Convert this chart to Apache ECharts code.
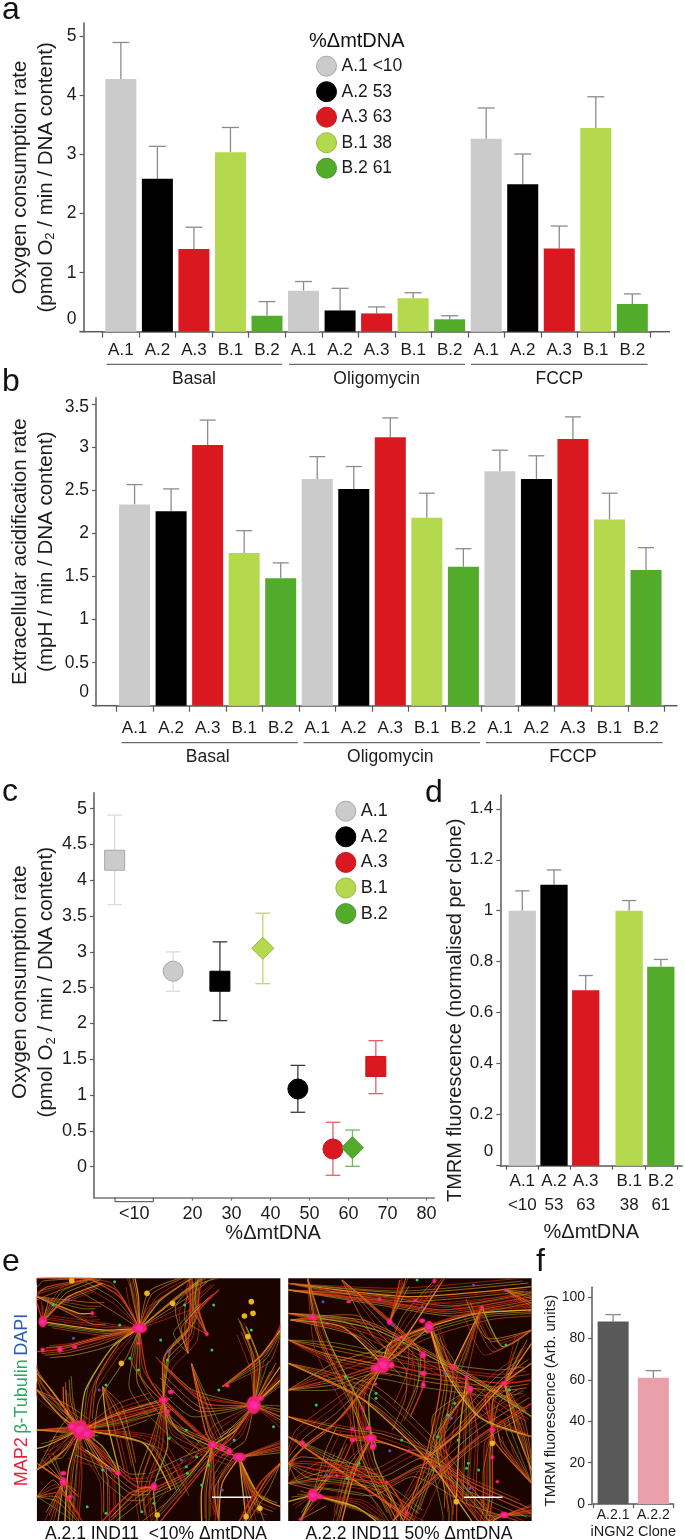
<!DOCTYPE html>
<html><head><meta charset="utf-8">
<style>html,body{margin:0;padding:0;background:#fff}#c{width:685px;height:1540px}</style>
<script src="https://cdn.jsdelivr.net/npm/echarts@6/dist/echarts.min.js"></script>
</head><body><div id="c"></div>
<script>
// ---------- data ----------
const clones = ['A.1','A.2','A.3','B.1','B.2'];
const deltaLabels = ['<10','53','63','38','61'];
const conditions = ['Basal','Oligomycin','FCCP'];
// panel a: [Basal, Oligomycin, FCCP]
const ocrA1 = [4.28,0.695,3.27], ocrA1Err = [4.90,0.85,3.79];
const ocrA2 = [2.59,0.36,2.50],  ocrA2Err = [3.14,0.735,3.01];
const ocrA3 = [1.40,0.31,1.41],  ocrA3Err = [1.77,0.42,1.79];
const ocrB1 = [3.04,0.565,3.45], ocrB1Err = [3.46,0.66,3.98];
const ocrB2 = [0.27,0.21,0.47],  ocrB2Err = [0.51,0.27,0.64];
// panel b
const ecarA1 = [2.34,2.635,2.725], ecarA1Err = [2.57,2.895,2.97];
const ecarA2 = [2.26,2.52,2.635],  ecarA2Err = [2.52,2.78,2.905];
const ecarA3 = [3.03,3.12,3.10],   ecarA3Err = [3.32,3.345,3.357];
const ecarB1 = [1.775,2.186,2.163],ecarB1Err = [2.035,2.47,2.47];
const ecarB2 = [1.48,1.616,1.578], ecarB2Err = [1.66,1.825,1.837];
// panel c: x, y, low, high
const scA1 = [[0,4.28,3.66,4.91],[15,2.73,2.45,3.00]];
const scA2 = [[27,2.59,2.04,3.14],[47,1.085,0.76,1.415]];
const scA3 = [[67,1.40,1.02,1.76],[56,0.247,-0.12,0.62]];
const scB1 = [[38,3.05,2.556,3.54]];
const scB2 = [[61,0.265,0.005,0.512]];
// panel d
const tmrm = [1.0,1.102,0.688,1.0,0.78];
const tmrmErr = [1.078,1.16,0.746,1.04,0.809];
const tmrmSlot = [1,2,3,4.37,5.37];
// panel f
const ingnCats = ['A.2.1','A.2.2'];
const ingn = [88.2,61];
const ingnErr = [91.6,64.5];
// tick labels
const ocrTicks = [0,1,2,3,4,5];
const ecarTicks = [0,0.5,1,1.5,2,2.5,3,3.5];
const scYTicks = [0,0.5,1,1.5,2,2.5,3,3.5,4,4.5,5];
const scXTicks = [20,30,40,50,60,70,80];
const tmrmTicks = [0,0.2,0.4,0.6,0.8,1,1.2,1.4];
const ingnTicks = [0,20,40,60,80,100];
const tmrmTickEdges = [0.486,1.505,2.505,3.84,4.87,5.9];

// ---------- styling ----------
const FONT = 'Liberation Sans';
const TXT = '#1c1c1c', AX = '#5a5a5a', ERR = '#8c8c8c';
const colors = ['#cbcbcb','#000000','#d9181f','#b4d94f','#52ab2a'];
const legendBorder = ['#a8a8a8','#000000','#c8141c','#93b83c','#46962a'];
const errColors = ['#dcdcdc','#3a3a3a','#e4606c','#bcd96a','#72bb5c'];
const catLabels = [];
conditions.forEach(()=>clones.forEach(c=>catLabels.push(c)));

const subRich = {sub:{fontSize:13,lineHeight:15,padding:[9,0,0,0],fontFamily:FONT,color:TXT}};
function yNameStyle(size,lh,pad){return {fontSize:size,lineHeight:lh,color:TXT,fontFamily:FONT,rich:subRich,padding:pad||0};}
function shiftRich(size,pad){return {s:{fontSize:size,color:TXT,fontFamily:FONT,padding:pad}};}

function errSeries(name,xi,yi,rows,cap,color,w){
  return {type:'custom',name:name,xAxisIndex:xi,yAxisIndex:yi,z:2,silent:true,
    encode:{x:0,y:[1,2]},data:rows,
    renderItem:(p,api)=>{
      const x=api.value(0);
      const lo=api.coord([x,api.value(1)]), hi=api.coord([x,api.value(2)]);
      const st={stroke:color,lineWidth:w,fill:null};
      const ln=(a,b,c,d)=>({type:'line',shape:{x1:a,y1:b,x2:c,y2:d},style:st});
      const kids=[ln(hi[0],lo[1],hi[0],hi[1]),ln(hi[0]-cap/2,hi[1],hi[0]+cap/2,hi[1])];
      return {type:'group',children:kids};
    }};
}
function capLow(name,xi,yi,rows,cap,color,w){
  return {type:'custom',name:name,xAxisIndex:xi,yAxisIndex:yi,z:2,silent:true,
    encode:{x:0,y:1},data:rows,
    renderItem:(p,api)=>{
      const c=api.coord([api.value(0),api.value(1)]);
      return {type:'line',shape:{x1:c[0]-cap/2,y1:c[1],x2:c[0]+cap/2,y2:c[1]},style:{stroke:color,lineWidth:w}};
    }};
}
function groupBars(prefix,names,vals,errs,xi,yi,barW,cap){
  const out=[];
  vals.forEach((v,c)=>{
    out.push({type:'bar',name:names[c],xAxisIndex:xi,yAxisIndex:yi,barWidth:barW,barGap:'-100%',z:3,silent:true,
      itemStyle:{color:colors[c]},data:v.map((y,j)=>[j*5+c,y])});
    out.push(errSeries(prefix+' err '+c,xi,yi,v.map((y,j)=>[j*5+c,y,errs[c][j]]),cap,ERR,1.3));
  });
  return out;
}
function yAxis(grid,max,ticks,labelSize,name,gap,fmt,rich,offset,nameSize,lh,namePad){
  return {type:'value',gridIndex:grid,min:0,max:max,offset:offset||0,splitLine:{show:false},
    axisLine:{show:true,onZero:false,lineStyle:{color:AX,width:1.5}},
    axisTick:{show:true,length:4,customValues:ticks,lineStyle:{color:AX,width:1.2}},
    axisLabel:{show:true,customValues:ticks,fontSize:labelSize,color:TXT,margin:7,fontFamily:FONT,hideOverlap:false,
      showMinLabel:true,showMaxLabel:true,formatter:fmt||(v=>String(v)),rich:rich||{}},
    name:name,nameLocation:'middle',nameGap:gap,nameMoveOverlap:false,nameTextStyle:yNameStyle(nameSize||20.5,lh||26,namePad)};
}
function catAxis(grid,data,margin,size,tickLen,extra){
  return Object.assign({type:'category',gridIndex:grid,data:data,position:'bottom',
    axisLine:{show:true,onZero:false,lineStyle:{color:AX,width:1.5}},
    axisTick:{show:true,length:tickLen,alignWithLabel:false,lineStyle:{color:AX,width:1.2}},
    axisLabel:{interval:0,margin:margin,fontSize:size,color:TXT,fontFamily:FONT},
    splitLine:{show:false}},extra||{});
}
function groupAxis(grid,margin){
  return catAxis(grid,conditions,margin,17.5,0,{axisLine:{show:false},axisTick:{show:false}});
}

// ---------- geometry ----------
const gA={l:102.6,r:650.6,t:23,b:331.7}, gB={l:116.3,r:664.3,t:397.7,b:705.7},
      gC={l:94,r:434.3,t:792.7,b:1197.7}, gD={l:500.3,r:682.3,t:795,b:1165.7},
      gF={l:593,r:673.5,t:1287.3,b:1504};
const mkGrid=g=>({left:g.l,top:g.t,width:g.r-g.l,height:g.b-g.t,containLabel:false,outerBoundsMode:'none'});

// ---------- series ----------
const series=[];
const legNames=['A.1 <10','A.2 53','A.3 63','B.1 38','B.2 61'];
series.push(...groupBars('ocr',legNames,[ocrA1,ocrA2,ocrA3,ocrB1,ocrB2],[ocrA1Err,ocrA2Err,ocrA3Err,ocrB1Err,ocrB2Err],0,0,31,17));
series.push(...groupBars('ecar',clones.map(c=>'ECAR '+c),[ecarA1,ecarA2,ecarA3,ecarB1,ecarB2],[ecarA1Err,ecarA2Err,ecarA3Err,ecarB1Err,ecarB2Err],2,1,31,16));
const shapes=[['rect','circle'],['rect','circle'],['rect','circle'],['diamond'],['diamond']];
[scA1,scA2,scA3,scB1,scB2].forEach((rows,c)=>{
  const eRows=rows.map(r=>[r[0],r[2],r[3]]);
  series.push(errSeries('sc err '+c,4,2,eRows,14.7,errColors[c],1.3));
  series.push(capLow('sc low '+c,4,2,rows.map(r=>[r[0],r[2]]),14.7,errColors[c],1.3));
  series.push({type:'scatter',name:clones[c],xAxisIndex:4,yAxisIndex:2,z:4,silent:true,symbol:'circle',
    itemStyle:{color:colors[c],borderColor:legendBorder[c],borderWidth:1,opacity:1},
    data:rows.map((r,i)=>({value:[r[0],r[1]],symbol:shapes[c][i],symbolSize:shapes[c][i]==='diamond'?22:20}))});
});
tmrm.forEach((v,c)=>{
  series.push({type:'bar',name:'TMRM '+clones[c],xAxisIndex:5,yAxisIndex:3,barWidth:27.3,barGap:'-100%',z:3,silent:true,
    itemStyle:{color:colors[c]},data:[[tmrmSlot[c],v]]});
  series.push(errSeries('tmrm err '+c,5,3,[[tmrmSlot[c],v,tmrmErr[c]]],14.3,ERR,1.3));
});
const ingnColors=['#595959','#e9a0aa'];
ingn.forEach((v,c)=>{
  series.push({type:'bar',name:'iNGN2 '+ingnCats[c],xAxisIndex:6,yAxisIndex:4,barWidth:31,barGap:'-100%',z:3,silent:true,
    itemStyle:{color:ingnColors[c]},data:[[c,v]]});
  series.push(errSeries('ingn err '+c,6,4,[[c,v,ingnErr[c]]],15.7,ERR,1.3));
});

// ---------- decoration: axis extensions, group rules, letters, captions ----------
const G=[];
const hline=(x1,x2,y,color,w)=>G.push({type:'line',shape:{x1,y1:y,x2,y2:y},style:{stroke:color||AX,lineWidth:w||1.5},silent:true,z:5});
hline(79.5,gA.l,gA.b); hline(gA.r,670,gA.b);
hline(93.4,gB.l,gB.b); hline(gB.r,677.5,gB.b);
[[106.6,282],[289,465],[471,647.6]].forEach(s=>hline(s[0],s[1],364.3,'#444',1));
[[121.6,297.8],[303.5,480],[486,662.6]].forEach(s=>hline(s[0],s[1],742.7,'#444',1));
G.push({type:'polyline',shape:{points:[[115,1197.7],[115,1201.7],[153.3,1201.7],[153.3,1197.7]]},style:{stroke:'#444',lineWidth:1,fill:null},silent:true,z:5});
const gtext=(t,x,y,size,extra)=>G.push({type:'text',x,y,z:6,silent:true,
  style:Object.assign({text:t,fontSize:size,fontFamily:FONT,fill:'#111',textAlign:'left',textVerticalAlign:'bottom'},extra||{})});
gtext('a',2,26,32); gtext('b',2,398,32); gtext('c',2,808,32);
gtext('d',425,809,32); gtext('e',2,1278,32); gtext('f',536,1278,32);
gtext('%\u0394mtDNA',356.8,51.5,20,{textAlign:'center'});
gtext('A.2.1 IND11  <10% \u0394mtDNA',156,1543,17.5,{textAlign:'center'});
gtext('A.2.2 IND11 50% \u0394mtDNA',409,1543,17.5,{textAlign:'center'});
G.push({type:'text',x:22,y:1400,rotation:Math.PI/2,z:6,silent:true,
  style:{text:'{r|MAP2} {g|\u03b2-Tubulin} {b|DAPI}',textAlign:'center',textVerticalAlign:'middle',
    rich:{r:{fontSize:18,fontFamily:FONT,fill:'#e8203c'},g:{fontSize:18,fontFamily:FONT,fill:'#2aa860'},b:{fontSize:18,fontFamily:FONT,fill:'#2a5fb0'}}}});

// ---------- micrographs (illustrative drawing of the two fluorescence images) ----------
const px=x=>x/2.925, py=y=>1230+y/3;
const fibreCols=['#d8301a','#e8851f','#c9a528','#cf2a18','#e6a82a','#8f9f2a','#e25418','#d8301a'];
const fibresL=[
[235,600,330,560,480,520],[235,600,150,480,108,430],[235,600,130,650,108,655],[235,600,320,700,400,770,450,770],
[235,600,200,720,190,873],[235,600,300,650,345,730,350,873],[235,600,190,540,185,470],[235,600,380,560,470,530],
[108,600,235,600],[408,295,405,200,395,145],[408,295,330,350,250,480,235,600],[408,295,430,430,480,510,620,645],
[408,295,300,300,125,275],[408,295,470,210,560,145],[408,295,520,200,590,145],[408,295,350,200,260,145],
[408,295,280,330,175,358,108,365],[742,525,820,410],[742,525,690,600,622,645],[742,525,600,520,490,420],
[742,525,820,450],[742,525,760,400,720,290],[742,525,820,560],[742,525,680,620,650,650,560,760,470,873],
[700,682,820,650],[700,682,760,800,820,830],[700,682,720,873],[622,645,560,720,460,770],[622,645,590,780,590,873],
[478,510,490,650,450,770,460,873],[478,510,480,380,550,300,555,145],[605,312,580,230,590,145],[125,275,108,220],
[125,275,200,200,300,160],[108,200,230,250,270,250],[550,370,560,270,640,180],[650,470,760,380,820,300],
[185,755,170,873],[185,755,108,700],[185,755,230,800],[450,770,380,790,300,873],[345,730,250,660],[108,480,180,560,235,600],
[108,720,200,650,235,600],[235,600,420,640,500,780],[480,520,520,600,700,682],[560,400,600,600,622,645],[270,145,140,170,108,190],
[820,700,760,760,700,873],[640,873,650,760,700,682],[300,470,310,560,350,730],[108,800,180,790,240,873]
];
const somasL=[[235,600,24],[255,612,16],[210,590,12],[408,295,17],[742,525,22],[760,505,9],[125,275,13],[700,682,15],[670,665,9],[622,645,11],[650,655,8],[478,510,10],[490,545,7],[500,485,7],
[185,755,11],[185,730,7],[450,770,10],[345,730,7],[175,358,8],[218,350,6],[605,312,5],[665,467,5],[270,250,5],[205,800,6],[125,360,6],[405,340,5]];
const yellowL=[[430,190],[505,220],[735,215],[715,258],[740,250],[210,152],[720,860],[460,855],[760,835],[725,320],[355,400]];
const dotsL=[[335,155,0],[540,225,0],[625,225,0],[350,285,0],[620,360,0],[380,385,0],[405,420,0],[310,465,0],[490,390,0],[470,330,0],[490,365,1],
[640,480,0],[545,600,0],[495,625,0],[685,630,0],[590,765,0],[545,710,0],[610,705,0],[650,780,1],[450,820,0],[310,850,0],[255,830,0],[415,845,0],
[300,720,0],[320,715,1],[290,480,1],[215,325,1],[155,225,0],[200,210,1],[735,300,0],[800,590,0],[575,680,0],[530,690,1],[548,730,0],[655,655,0]];
const fibresR=[
[843,180,1100,210,1300,240,1555,200],[843,160,1200,200,1555,170],[850,270,1000,290,1120,405],
[843,480,1000,440,1120,405,1250,430,1470,460,1555,450],[1120,405,1140,340,1255,290,1400,250,1555,240],
[1120,405,1080,500,1085,625,1100,700,1180,873],[843,330,950,370,1120,405],[1120,405,1000,560,900,640,843,700],
[843,560,980,610,1085,625,1240,690,1400,873],[1085,625,1040,720,1000,873],[915,795,843,815],[915,795,1000,700,1032,630],
[915,795,1040,830,1100,873],[1255,290,1170,370,1120,405],[1255,290,1290,450,1240,700,1180,873],[1440,600,1440,682,1440,800,1430,873],
[1440,600,1420,500,1475,460],[1475,460,1555,340],[1475,460,1510,600,1555,720],[1375,478,1300,600,1335,815,1335,873],
[1365,440,1345,600,1335,810],[843,250,1100,300,1400,460,1555,560],[843,620,1050,760,1200,873],[1000,150,1140,275,1238,375,1238,465,1200,560],
[1140,275,1170,150],[1240,690,1350,600,1475,460,1555,400],[843,400,1050,500,1250,690,1380,873],[1120,405,1200,300,1300,145],
[1410,232,1330,400,1325,412],[1555,300,1470,350,1410,232],[1478,180,1555,220],[843,760,960,740,985,737,1130,757,1250,700,1400,780,1555,850],
[1475,855,1555,840],[1475,855,1440,873],[880,868,915,795],[843,700,930,720,1130,757,1190,848,1188,873],[1555,620,1400,560,1300,420,1260,300],
[900,145,960,330,1060,535,1100,650],[1555,760,1450,640,1440,600],[1150,873,1250,760,1400,620,1555,520]
];
const somasR=[[1120,405,20],[1100,415,12],[1145,405,9],[1085,625,13],[1090,650,9],[1078,595,7],[915,795,16],[935,800,8],[1255,290,14],[1235,272,7],[1140,275,8],[915,262,9],[1238,375,9],[1238,430,8],[1238,465,7],
[1325,412,7],[1375,478,9],[1475,460,8],[1365,440,5],[1440,600,7],[1440,682,5],[1020,215,5],[1110,208,5],[1215,212,5],[1270,153,5],[1410,232,5],[1478,180,4],[1165,325,5],
[885,640,7],[1032,630,7],[1030,597,5],[1195,662,4],[985,737,4],[1035,712,4],[1130,757,4],[1475,855,10],[1188,848,5],[880,868,5],[1060,535,4],[1098,462,4],[1498,420,4],[1455,755,4]];
const yellowR=[[1440,640],[1335,815],[1250,300]];
const dotsR=[[945,215,1],[1100,505,0],[1310,555,0],[1330,520,0],[1365,715,0],[1400,720,0],[1140,662,1],[1375,775,1],[1015,745,0],[955,735,1],[1220,150,0],[1385,165,1],[1480,345,0],
[1010,440,0],[1280,620,0],[1340,630,0],[1050,700,0],[1300,430,1],[1175,630,0],[1235,230,1],[1150,285,1],[1490,480,0],[925,525,0],[1100,490,0],[1320,565,1],[1370,700,0]];
const bg='#1b0400';
const bundle=[[0,0],[2.2,-2.6],[-3,1.8],[5,3.5],[-6,-4],[8,-6],[-9,6]];
function micro(l,r,t,b,fibres,somas,yellow,dots,bar){
  const L=px(l),R=px(r),T=py(t),B=py(b);
  const clamp=(v,a,z)=>Math.max(a,Math.min(z,v));
  G.push({type:'rect',shape:{x:L,y:T,width:R-L,height:B-T},style:{fill:bg},silent:true,z:1});
  fibres.forEach((f,i)=>{
    const pts=[];for(let k=0;k<f.length;k+=2)pts.push([px(f[k]),py(f[k+1])]);
    bundle.forEach((o,n)=>{
      const sgn=(i+n)%2?1:-1, dx=o[0]*(1+(i%3)*0.5)*sgn, dy=o[1]*(1+(i%4)*0.4);
      const p2=pts.map((p,j)=>(j===0?p:[clamp(p[0]+dx,L,R),clamp(p[1]+dy,T,B)]));
      G.push({type:'polyline',shape:{points:p2,smooth:0.22},
        style:{stroke:fibreCols[(i+n*3)%fibreCols.length],lineWidth:n===0?1.3:0.75,fill:null,opacity:n===0?0.95:0.8},silent:true,z:1});
    });
  });
  yellow.forEach(s=>G.push({type:'circle',shape:{cx:px(s[0]),cy:py(s[1]),r:2.8},style:{fill:'#e8b420'},silent:true,z:1}));
  dots.forEach(s=>G.push({type:'circle',shape:{cx:px(s[0]),cy:py(s[1]),r:1.5},style:{fill:s[2]?'#5050d8':'#30c860'},silent:true,z:1}));
  somas.forEach((s,i)=>{
    const rr=px(s[2]);
    G.push({type:'ellipse',shape:{cx:px(s[0]),cy:py(s[1]),rx:rr*(i%2?1.25:0.9),ry:rr*(i%2?0.85:1.15)},
      style:{fill:'#f0206e',shadowBlur:2,shadowColor:'#f03060'},silent:true,z:1});
    G.push({type:'ellipse',shape:{cx:px(s[0]),cy:py(s[1]),rx:rr*0.6,ry:rr*0.5},style:{fill:'#ff2aa8'},silent:true,z:1});
  });
  G.push({type:'rect',shape:{x:px(bar[0]),y:py(802)-0.75,width:px(bar[1]-bar[0]),height:1.5},style:{fill:'#ffffff'},silent:true,z:1});
}
micro(108,820,145,873,fibresL,somasL,yellowL,dotsL,[620,735]);
micro(843,1555,145,873,fibresR,somasR,yellowR,dotsR,[1357,1470]);

// ---------- option ----------
const option={
  animation:false,backgroundColor:'#fff',textStyle:{fontFamily:FONT},
  grid:[gA,gB,gC,gD,gF].map(mkGrid),
  xAxis:[
    catAxis(0,catLabels,10,17,6),
    groupAxis(0,38),
    catAxis(1,catLabels,14,17,6),
    groupAxis(1,42),
    {type:'value',gridIndex:2,min:-5.3,max:82,splitLine:{show:false},
      axisLine:{show:true,onZero:false,lineStyle:{color:'#777',width:1.5}},
      axisTick:{show:true,length:3,customValues:scXTicks,lineStyle:{color:'#777',width:1.2}},
      axisLabel:{customValues:[5].concat(scXTicks),margin:7,fontSize:18,color:TXT,fontFamily:FONT,hideOverlap:false,
        showMinLabel:true,showMaxLabel:true,formatter:v=>v===5?'<10':String(v)},
      name:'%\u0394mtDNA',nameLocation:'middle',nameGap:25,
      nameTextStyle:{fontSize:20,color:TXT,fontFamily:FONT,padding:[0,0,0,18]}},
    {type:'value',gridIndex:3,min:0.306,max:6.047,splitLine:{show:false},
      axisLine:{show:true,onZero:false,lineStyle:{color:AX,width:1.5}},
      axisTick:{show:true,length:4,customValues:tmrmTickEdges,lineStyle:{color:AX,width:1.2}},
      axisLabel:{customValues:tmrmSlot,margin:4,fontSize:17,lineHeight:24,color:TXT,fontFamily:FONT,hideOverlap:false,
        formatter:v=>{const i=tmrmSlot.indexOf(v);return clones[i]+'\n'+deltaLabels[i];}},
      name:'%\u0394mtDNA',nameLocation:'middle',nameGap:57,
      nameTextStyle:{fontSize:20,color:TXT,fontFamily:FONT}},
    catAxis(4,ingnCats,4,14,4,{name:'iNGN2 Clone',nameLocation:'middle',nameGap:20,
      nameTextStyle:{fontSize:14.5,color:TXT,fontFamily:FONT}})
  ],
  yAxis:[
    yAxis(0,5.23,ocrTicks,17.5,'Oxygen consumption rate\n(pmol O{sub|2} / min / DNA content)',24.7,
      v=>v===0?'{s|0}':String(v),shiftRich(17.5,[0,0,26,0]),19),
    yAxis(1,3.58,ecarTicks,17.5,'Extracellular acidification rate\n(mpH / min / DNA content)',37,
      v=>v===0?'{s|0}':v===3.5?'{t|3.5}':String(v),
      Object.assign(shiftRich(17.5,[0,0,28,0]),{t:{fontSize:17.5,color:TXT,fontFamily:FONT,padding:[6,0,0,0]}}),20.3),
    Object.assign(yAxis(2,5.223,scYTicks,18,'Oxygen consumption rate\n(pmol O{sub|2} / min / DNA content)',34.3,null,null,0,20.5,26,[0,0,0,26]),{min:-0.433}),
    yAxis(3,1.454,tmrmTicks,17,'TMRM fluorescence (normalised per clone)',33,
      v=>v===0?'{s|0}':String(v),shiftRich(17,[0,0,28,0]),0,20,24,[0,60,0,0]),
    yAxis(4,104.8,ingnTicks,14,'TMRM fluorescence (Arb. units)',32,null,null,1,15,18,[0,10,0,0])
  ],
  legend:[
    {left:316,top:55.7,padding:0,orient:'vertical',itemWidth:20,itemHeight:20,itemGap:4.5,icon:'circle',selectedMode:false,
      textStyle:{fontSize:17.5,color:TXT,fontFamily:FONT},
      data:legNames.map((n,i)=>({name:n,itemStyle:{color:colors[i],borderColor:legendBorder[i],borderWidth:1}}))},
    {left:335.3,top:800.7,padding:0,orient:'vertical',itemWidth:20,itemHeight:20,itemGap:4.6,icon:'circle',selectedMode:false,
      textStyle:{fontSize:18,color:TXT,fontFamily:FONT},
      data:clones.map((n,i)=>({name:n,itemStyle:{color:colors[i],borderColor:legendBorder[i],borderWidth:1}}))}
  ],
  series:series,
  graphic:{elements:G}
};
echarts.init(document.getElementById('c'),null,{renderer:'canvas'}).setOption(option);
</script></body></html>
